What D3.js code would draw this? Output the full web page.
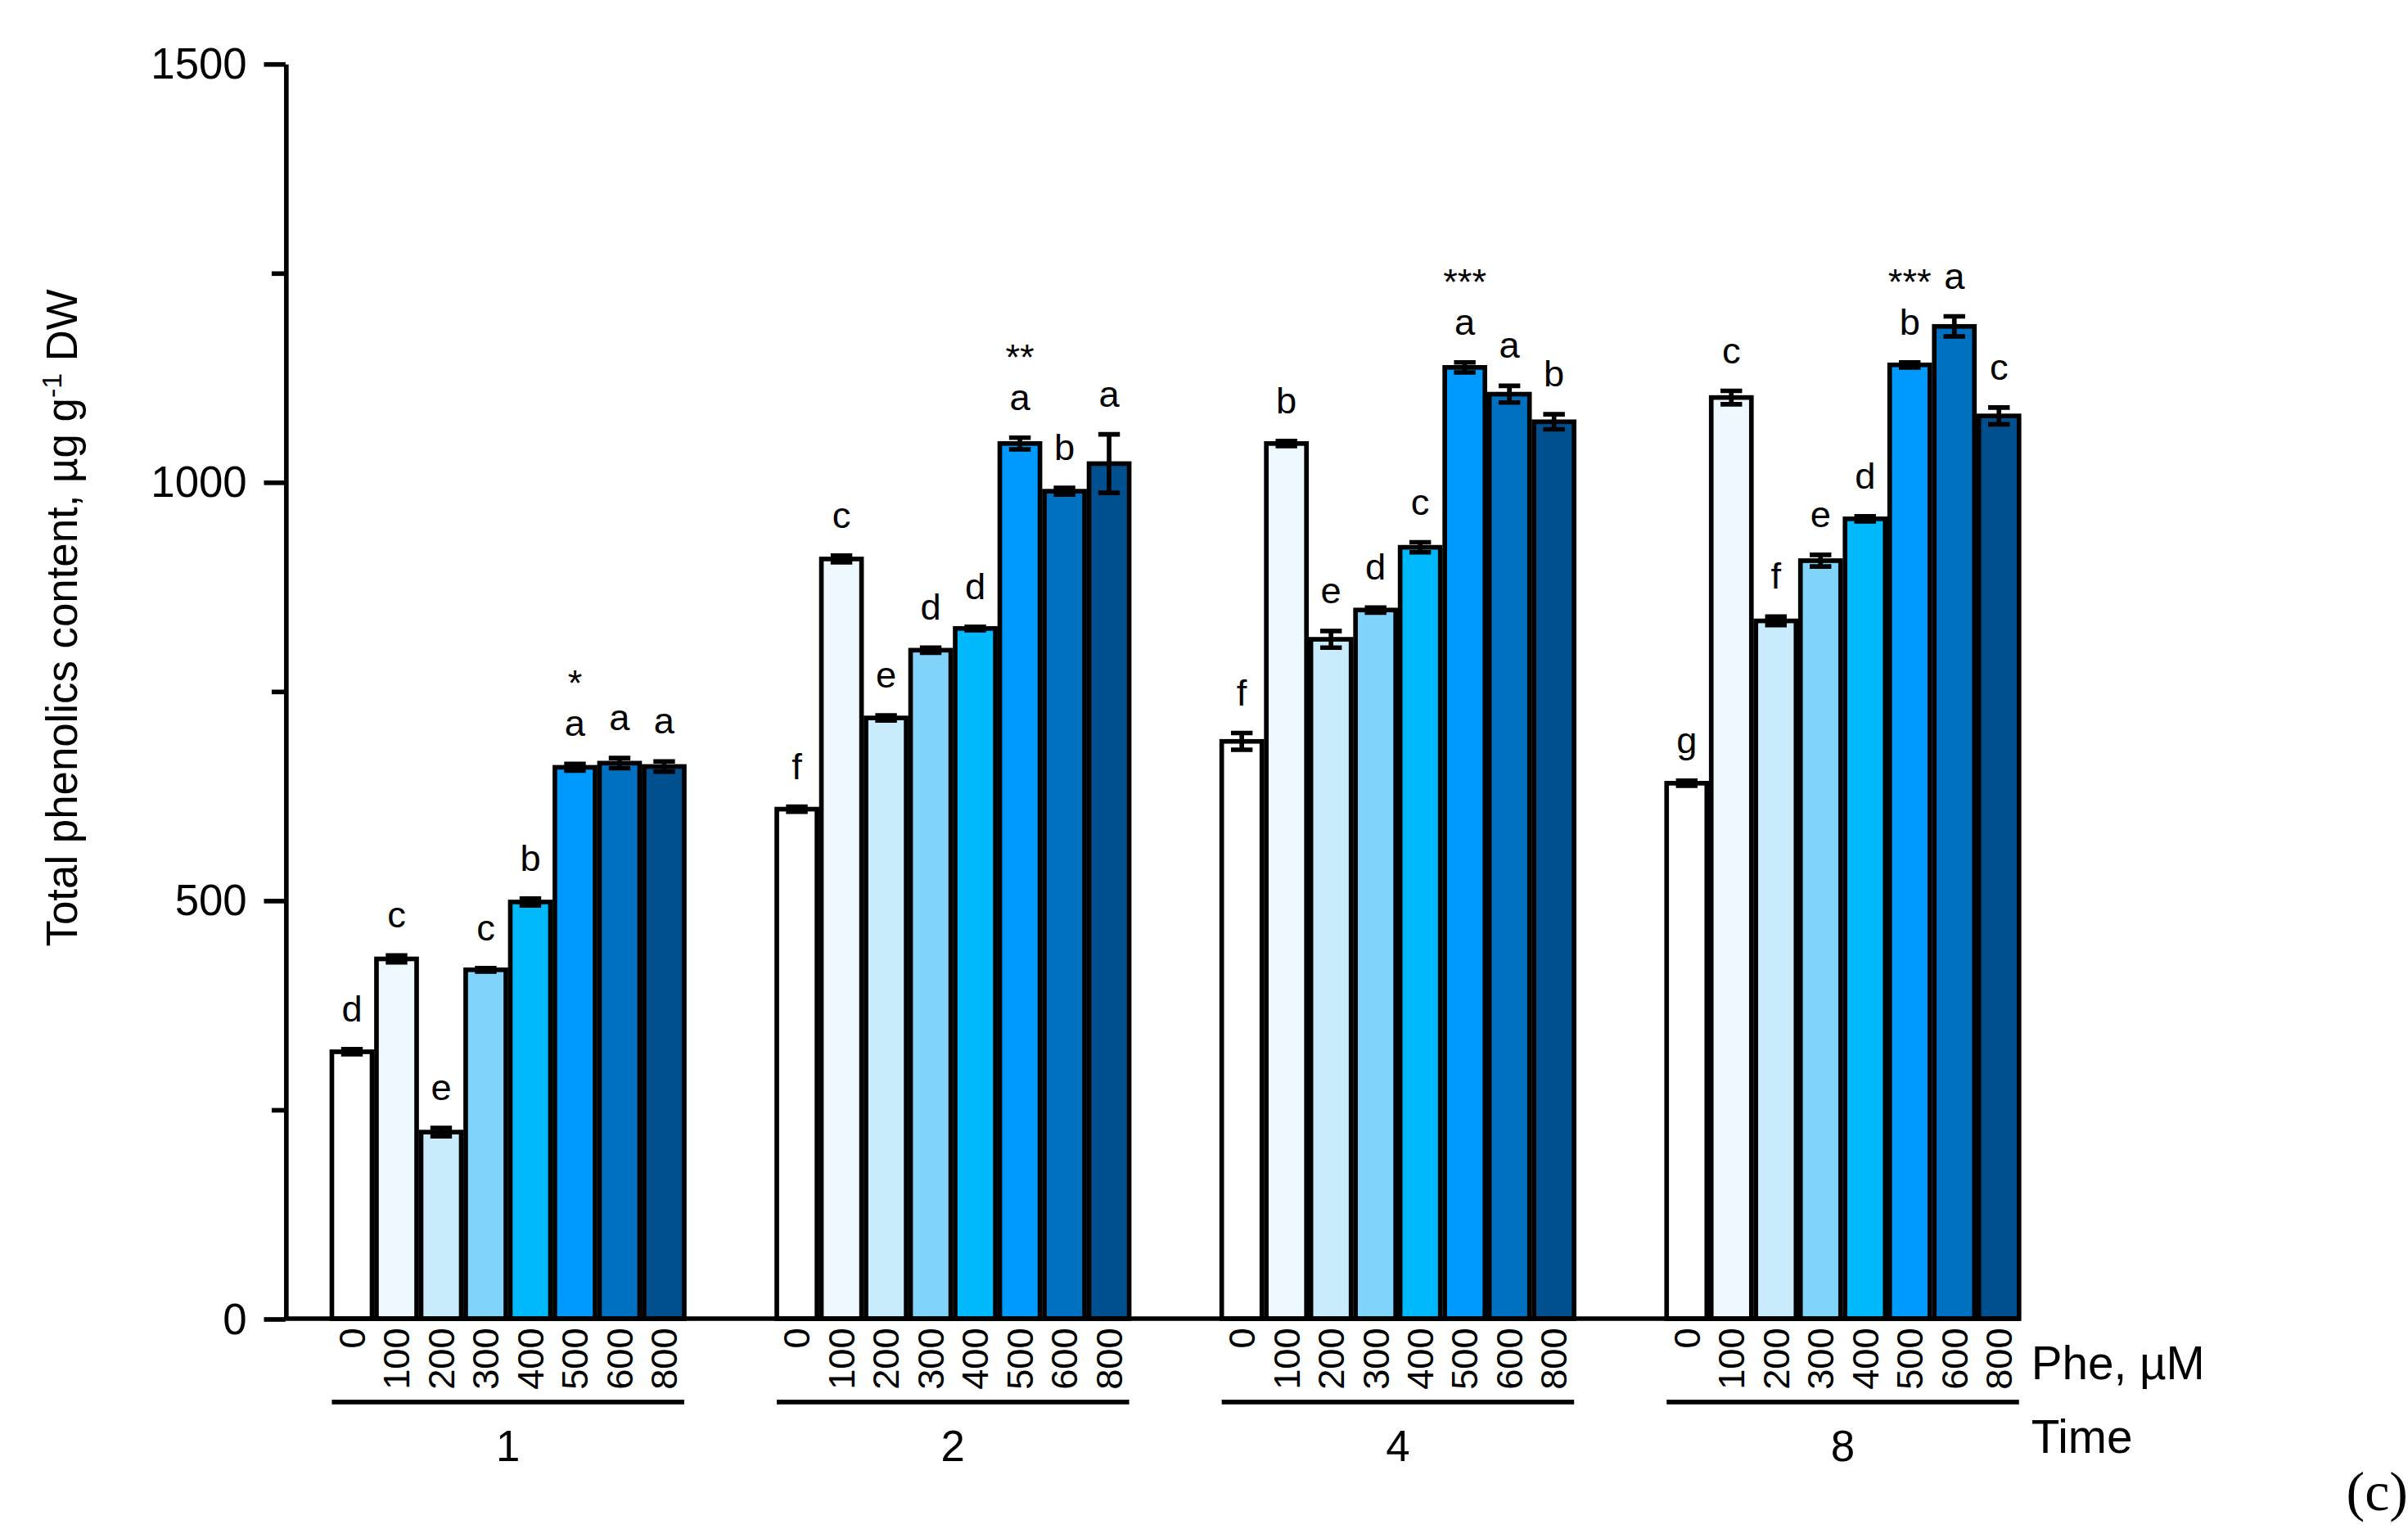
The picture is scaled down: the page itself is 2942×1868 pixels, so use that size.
<!DOCTYPE html>
<html><head><meta charset="utf-8">
<script src="https://cdn.jsdelivr.net/npm/d3@7"></script>
<style>body{margin:0;background:#fff}</style>
</head><body><svg></svg>
<script>
const times = ["1", "2", "4", "8"];
const doses = ["0", "100", "200", "300", "400", "500", "600", "800"];
const colors = ["#ffffff", "#eef8ff", "#c8ecfc", "#80d4fc", "#00b8fc", "#0099fc", "#0070c0", "#005090"];
const values = [
    [319, 430, 223, 417, 498, 659, 664, 660],
    [609, 908, 718, 799, 825, 1046, 989, 1022],
    [690, 1046, 812, 847, 922, 1137, 1105, 1072],
    [640, 1101, 834, 906, 956, 1140, 1186, 1079]
];
const errors = [
    [3, 4, 5, 2, 4, 4, 6, 6],
    [3, 4, 3, 3, 2, 7, 4, 35],
    [10, 3, 10, 3, 6, 6, 10, 9],
    [3, 8, 5, 7, 3, 3, 12, 10]
];
const letters = [
    ["d", "c", "e", "c", "b", "a", "a", "a"],
    ["f", "c", "e", "d", "d", "a", "b", "a"],
    ["f", "b", "e", "d", "c", "a", "a", "b"],
    ["g", "c", "f", "e", "d", "b", "a", "c"]
];
const stars = ["*", "**", "***", "***"];
const yTicks = [0, 250, 500, 750, 1000, 1250, 1500];

const svg = d3.select("svg").attr("width", 2942).attr("height", 1868)
    .attr("viewBox", "0 0 1560 990")
    .attr("font-family", "Liberation Sans, Arial, sans-serif");

const y = d3.scaleLinear().domain([0, 1500]).range([854, 41]);
const x0 = d3.scaleBand().domain(times).range([215, 1308]).paddingInner(0.208);
const x1 = d3.scaleBand().domain(doses).range([0, x0.bandwidth()]).paddingInner(0.1);

svg.append("g").attr("transform", "translate(185,0)")
    .call(d3.axisLeft(y).tickValues(yTicks).tickSize(0).tickSizeOuter(0).tickFormat(""))
    .call(g => g.select(".domain").attr("stroke-width", 3))
    .call(g => g.selectAll(".tick line").attr("x2", d => d % 500 === 0 ? -14 : -9).attr("stroke-width", 3));

svg.append("g").selectAll("text").data(yTicks.filter(d => d % 500 === 0)).join("text")
    .attr("x", 160).attr("y", d => y(d)).attr("dy", "0.35em")
    .attr("text-anchor", "end").attr("font-size", 28).text(d => d);

svg.append("text").attr("transform", "translate(50,400) rotate(-90)")
    .attr("text-anchor", "middle").attr("font-size", 28)
    .html("Total phenolics content, µg g<tspan dy='-10' font-size='18'>-1</tspan><tspan dy='10'> DW</tspan>");

times.forEach((t, gi) => {
    const g = svg.append("g").attr("transform", `translate(${x0(t)},0)`);
    const rows = doses.map((d, i) => ({ d, i, v: values[gi][i], e: errors[gi][i], l: letters[gi][i] }));
    g.selectAll("rect").data(rows).join("rect")
        .attr("x", r => x1(r.d)).attr("width", x1.bandwidth())
        .attr("y", r => y(r.v)).attr("height", r => y(0) - y(r.v))
        .attr("fill", r => colors[r.i]).attr("stroke", "#000").attr("stroke-width", 3);
    const cx = r => x1(r.d) + x1.bandwidth() / 2;
    g.selectAll("path.err").data(rows).join("path").attr("class", "err")
        .attr("d", r => `M${cx(r) - 7},${y(r.v + r.e)}H${cx(r) + 7}M${cx(r)},${y(r.v + r.e)}V${y(r.v - r.e)}M${cx(r) - 7},${y(r.v - r.e)}H${cx(r) + 7}`)
        .attr("stroke", "#000").attr("stroke-width", 3).attr("fill", "none");
    g.selectAll("text.let").data(rows).join("text").attr("class", "let")
        .attr("x", cx).attr("y", r => y(r.v + r.e) - 18)
        .attr("text-anchor", "middle").attr("font-size", 24).text(r => r.l);
    const r5 = rows[5];
    g.append("text").attr("x", cx(r5)).attr("y", y(r5.v + r5.e) - 44)
        .attr("text-anchor", "middle").attr("font-size", 24).text(stars[gi]);
    g.selectAll("text.dose").data(rows).join("text").attr("class", "dose")
        .attr("transform", r => `translate(${cx(r)},860) rotate(-90)`)
        .attr("dy", "0.35em").attr("text-anchor", "end").attr("font-size", 24).text(r => r.d);
    g.append("line").attr("x1", 0).attr("x2", x0.bandwidth()).attr("y1", 908).attr("y2", 908)
        .attr("stroke", "#000").attr("stroke-width", 3);
    g.append("text").attr("x", x0.bandwidth() / 2).attr("y", 946)
        .attr("text-anchor", "middle").attr("font-size", 28).text(t);
});

svg.append("line").attr("x1", 185).attr("x2", 1308).attr("y1", 854).attr("y2", 854)
    .attr("stroke", "#000").attr("stroke-width", 3);
svg.append("text").attr("x", 1316).attr("y", 893).attr("font-size", 30).text("Phe, µM");
svg.append("text").attr("x", 1316).attr("y", 941).attr("font-size", 30).text("Time");
svg.append("text").attr("x", 1520).attr("y", 978).attr("font-family", "Liberation Serif, serif")
    .attr("font-size", 36).text("(c)");
</script></body></html>
